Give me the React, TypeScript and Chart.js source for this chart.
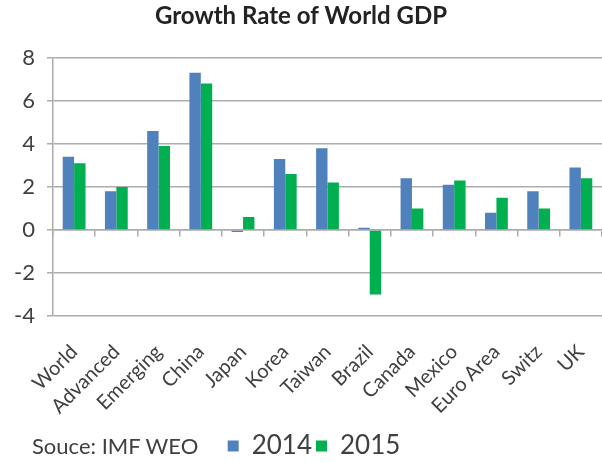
import React, { useEffect, useRef } from 'react';
import { Chart, registerables } from 'chart.js';

Chart.register(...registerables);

const categories = ['World', 'Advanced', 'Emerging', 'China', 'Japan', 'Korea', 'Taiwan', 'Brazil', 'Canada', 'Mexico', 'Euro Area', 'Switz', 'UK'];
const growth2014 = [3.4, 1.8, 4.6, 7.3, -0.1, 3.3, 3.8, 0.1, 2.4, 2.1, 0.8, 1.8, 2.9];
const growth2015 = [3.1, 2.0, 3.9, 6.8, 0.6, 2.6, 2.2, -3.0, 1.0, 2.3, 1.5, 1.0, 2.4];
const seriesLabels = ['2014', '2015'];
const yTickValues = [-4, -2, 0, 2, 4, 6, 8];
const titleText = 'Growth Rate of World GDP';
const sourceText = 'Souce: IMF WEO';

const FONT = 'Lato, "Open Sans", "DejaVu Sans", sans-serif';
const BLUE = '#4F81BD';
const GREEN = '#00B050';
const GRID = '#acacac';
const TEXT = '#404040';

const legendShift = {
  id: 'legendShift',
  afterLayout(chart: any) {
    const l = chart.legend;
    if (l) {
      l.left += 13;
      l.right += 13;
      l.top += 7;
      l.bottom += 7;
    }
  },
};

export default function App() {
  const ref = useRef<HTMLCanvasElement | null>(null);

  useEffect(() => {
    if (!ref.current) return;
    const chart = new Chart(ref.current, {
      type: 'bar',
      data: {
        labels: categories,
        datasets: [
          { label: seriesLabels[0], data: growth2014, backgroundColor: BLUE, borderWidth: 0 },
          { label: seriesLabels[1], data: growth2015, backgroundColor: GREEN, borderWidth: 0 },
        ],
      },
      plugins: [legendShift],
      options: {
        animation: false,
        responsive: true,
        maintainAspectRatio: false,
        layout: { padding: { left: 0, right: 0, top: 0, bottom: 0 } },
        datasets: { bar: { categoryPercentage: 0.54, barPercentage: 1.0 } },
        plugins: {
          title: {
            display: true,
            text: titleText,
            color: '#222222',
            font: { family: FONT, size: 24, weight: 'bold' },
            padding: { top: 2, bottom: 27 },
          },
          legend: {
            display: true,
            position: 'bottom',
            align: 'center',
            labels: {
              color: TEXT,
              font: { family: FONT, size: 26 },
              boxWidth: 11,
              boxHeight: 11,
              padding: 4,
            },
          },
          tooltip: { enabled: false },
        },
        scales: {
          x: {
            type: 'category',
            position: 'bottom',
            grid: { display: false, drawTicks: true, tickLength: 24 },
            border: { display: false },
            ticks: {
              color: TEXT,
              font: { family: FONT, size: 20 },
              minRotation: 45,
              maxRotation: 45,
              padding: 0,
              autoSkip: false,
            },
            afterFit: (s: any) => { s.height = 106; },
          },
          x0: {
            type: 'category',
            axis: 'x',
            position: { y: 0 },
            grid: { drawOnChartArea: false, drawTicks: true, tickLength: 6, color: GRID, lineWidth: 1.5, offset: true },
            border: { display: true, color: GRID, width: 1.5 },
            ticks: { display: false },
          },
          y: {
            type: 'linear',
            min: yTickValues[0],
            max: yTickValues[yTickValues.length - 1],
            grid: { color: GRID, lineWidth: 1.5, drawTicks: true, tickLength: 6 },
            border: { display: true, color: GRID, width: 1.5 },
            ticks: {
              stepSize: yTickValues[1] - yTickValues[0],
              color: TEXT,
              font: { family: FONT, size: 22 },
              padding: 12,
            },
            afterFit: (s: any) => { s.width = 53; },
          },
        },
      } as any,
    });
    return () => chart.destroy();
  }, []);

  return (
    <div style={{ position: 'fixed', left: 0, top: 0, width: 602, height: 462, background: '#ffffff', overflow: 'hidden' }}>
      <canvas ref={ref} />
      <div
        style={{
          position: 'absolute',
          left: 32,
          top: 432,
          fontFamily: FONT,
          fontSize: 22,
          lineHeight: '28px',
          color: TEXT,
          whiteSpace: 'nowrap',
        }}
      >
        {sourceText}
      </div>
    </div>
  );
}
